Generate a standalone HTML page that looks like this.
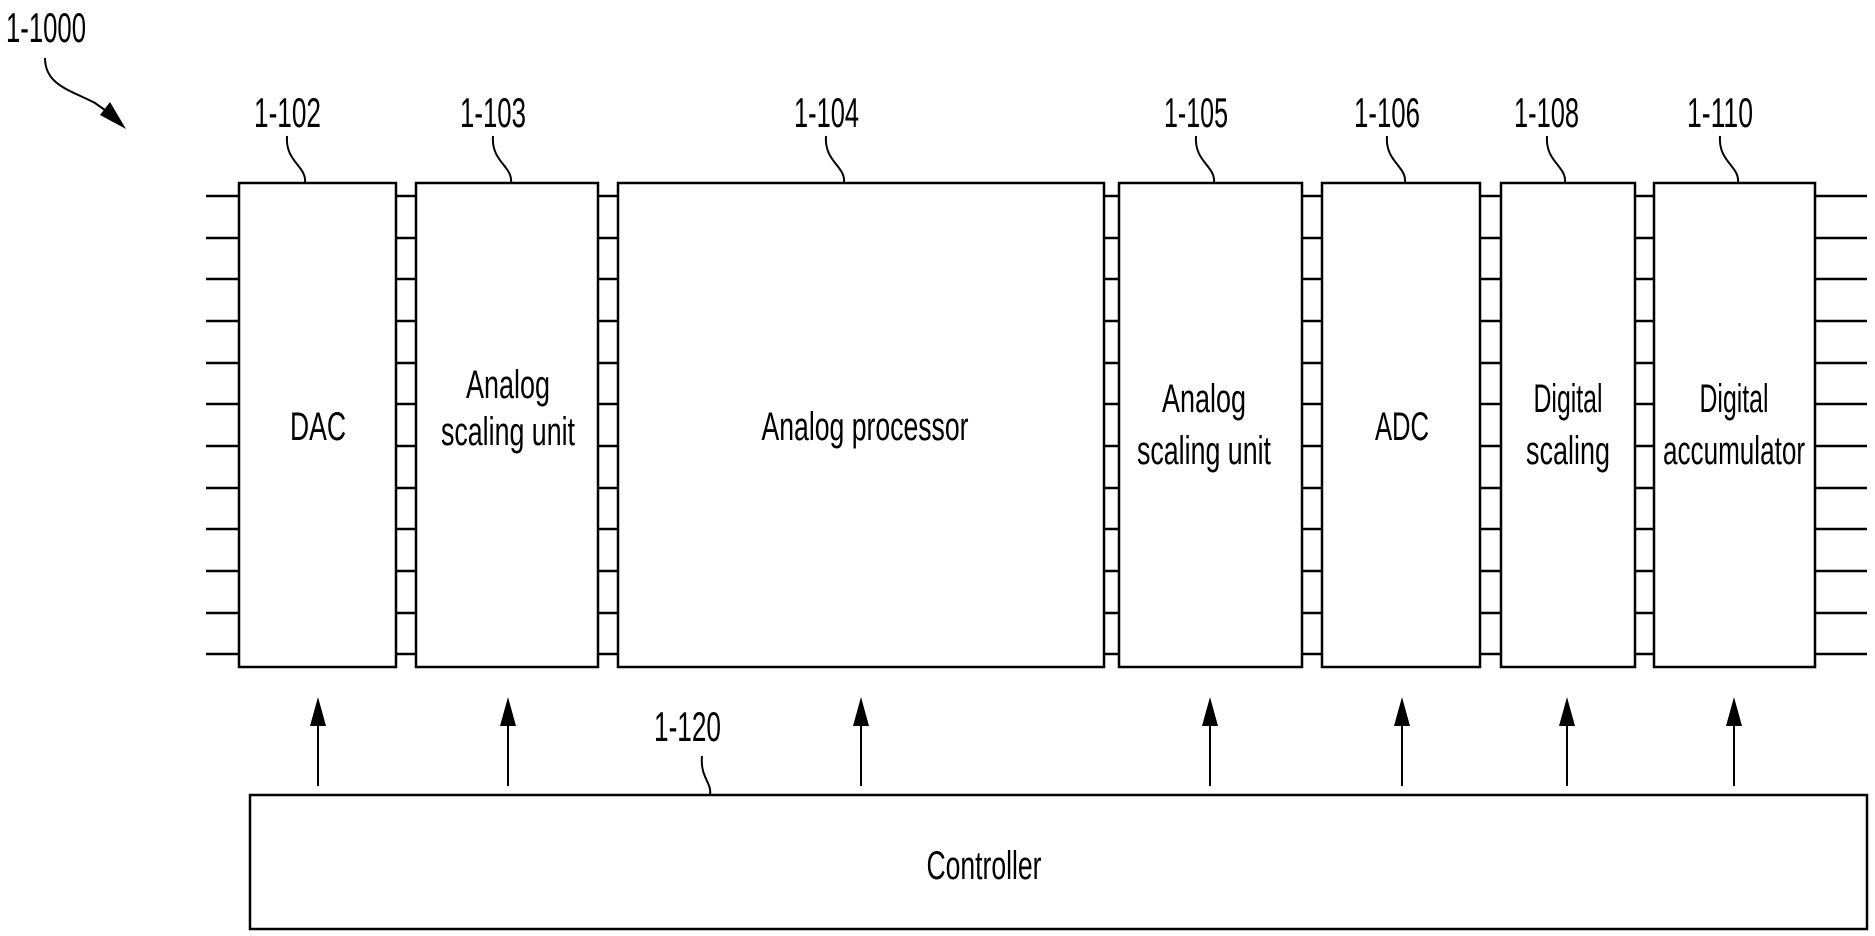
<!DOCTYPE html>
<html><head><meta charset="utf-8"><style>html,body{margin:0;padding:0;background:#fff}svg{display:block}</style></head>
<body>
<svg width="1875" height="936" viewBox="0 0 1875 936" xmlns="http://www.w3.org/2000/svg" font-family="'Liberation Sans Narrow','Liberation Sans',sans-serif" fill="#000">
<g stroke="#000" stroke-width="2.5" fill="none">
<path d="M206,196h33M206,238h33M206,279h33M206,321h33M206,363h33M206,404h33M206,446h33M206,488h33M206,529h33M206,571h33M206,613h33M206,654h33"/>
<path d="M396,196h20M396,238h20M396,279h20M396,321h20M396,363h20M396,404h20M396,446h20M396,488h20M396,529h20M396,571h20M396,613h20M396,654h20"/>
<path d="M598,196h20M598,238h20M598,279h20M598,321h20M598,363h20M598,404h20M598,446h20M598,488h20M598,529h20M598,571h20M598,613h20M598,654h20"/>
<path d="M1104,196h15M1104,238h15M1104,279h15M1104,321h15M1104,363h15M1104,404h15M1104,446h15M1104,488h15M1104,529h15M1104,571h15M1104,613h15M1104,654h15"/>
<path d="M1302,196h20M1302,238h20M1302,279h20M1302,321h20M1302,363h20M1302,404h20M1302,446h20M1302,488h20M1302,529h20M1302,571h20M1302,613h20M1302,654h20"/>
<path d="M1480,196h21M1480,238h21M1480,279h21M1480,321h21M1480,363h21M1480,404h21M1480,446h21M1480,488h21M1480,529h21M1480,571h21M1480,613h21M1480,654h21"/>
<path d="M1635,196h19M1635,238h19M1635,279h19M1635,321h19M1635,363h19M1635,404h19M1635,446h19M1635,488h19M1635,529h19M1635,571h19M1635,613h19M1635,654h19"/>
<path d="M1815,196h52M1815,238h52M1815,279h52M1815,321h52M1815,363h52M1815,404h52M1815,446h52M1815,488h52M1815,529h52M1815,571h52M1815,613h52M1815,654h52"/>
<rect x="239" y="183" width="157" height="484"/>
<rect x="416" y="183" width="182" height="484"/>
<rect x="618" y="183" width="486" height="484"/>
<rect x="1119" y="183" width="183" height="484"/>
<rect x="1322" y="183" width="158" height="484"/>
<rect x="1501" y="183" width="134" height="484"/>
<rect x="1654" y="183" width="161" height="484"/>
<rect x="250" y="795" width="1617" height="134"/>
<g stroke-width="2">
<path d="M318,786V720"/><path d="M508,786V720"/><path d="M861,786V720"/><path d="M1210,786V720"/><path d="M1402,786V720"/><path d="M1567,786V720"/><path d="M1734,786V720"/>
<path d="M287,136 C285,162 307,166 305,183"/>
<path d="M493,136 C491,162 513,166 511,183"/>
<path d="M826,136 C824,162 846,166 844,183"/>
<path d="M1196,136 C1194,162 1216,166 1214,183"/>
<path d="M1387,136 C1385,162 1407,166 1405,183"/>
<path d="M1547,136 C1545,162 1567,166 1565,183"/>
<path d="M1720,136 C1718,162 1740,166 1738,183"/>
<path d="M702,756 C700,778 712,782 710,795"/>
<path d="M45,58 C45,85 70,90 95,103 L112,115"/>
</g>
</g>
<g fill="#000">
<path d="M318,697 L326,726 L310,726 Z"/>
<path d="M508,697 L516,726 L500,726 Z"/>
<path d="M861,697 L869,726 L853,726 Z"/>
<path d="M1210,697 L1218,726 L1202,726 Z"/>
<path d="M1402,697 L1410,726 L1394,726 Z"/>
<path d="M1567,697 L1575,726 L1559,726 Z"/>
<path d="M1734,697 L1742,726 L1726,726 Z"/>
<path d="M126,129 L100,115 L110,102 Z"/>
</g>
<g font-size="42">
<text x="6" y="42" textLength="80" lengthAdjust="spacingAndGlyphs">1-1000</text>
<text x="254" y="127" textLength="67" lengthAdjust="spacingAndGlyphs">1-102</text>
<text x="460" y="127" textLength="66" lengthAdjust="spacingAndGlyphs">1-103</text>
<text x="794" y="127" textLength="65" lengthAdjust="spacingAndGlyphs">1-104</text>
<text x="1164" y="127" textLength="64" lengthAdjust="spacingAndGlyphs">1-105</text>
<text x="1354" y="127" textLength="66" lengthAdjust="spacingAndGlyphs">1-106</text>
<text x="1514" y="127" textLength="65" lengthAdjust="spacingAndGlyphs">1-108</text>
<text x="1687" y="127" textLength="66" lengthAdjust="spacingAndGlyphs">1-110</text>
<text x="654" y="741" textLength="67" lengthAdjust="spacingAndGlyphs">1-120</text>
</g>
<g font-size="40" text-anchor="middle">
<text x="318" y="440" textLength="56" lengthAdjust="spacingAndGlyphs">DAC</text>
<text x="508" y="398" textLength="84" lengthAdjust="spacingAndGlyphs">Analog</text>
<text x="508" y="445" textLength="134" lengthAdjust="spacingAndGlyphs">scaling unit</text>
<text x="865" y="440" textLength="207" lengthAdjust="spacingAndGlyphs">Analog processor</text>
<text x="1204" y="412" textLength="84" lengthAdjust="spacingAndGlyphs">Analog</text>
<text x="1204" y="464" textLength="134" lengthAdjust="spacingAndGlyphs">scaling unit</text>
<text x="1402" y="440" textLength="54" lengthAdjust="spacingAndGlyphs">ADC</text>
<text x="1568" y="412" textLength="69" lengthAdjust="spacingAndGlyphs">Digital</text>
<text x="1568" y="464" textLength="84" lengthAdjust="spacingAndGlyphs">scaling</text>
<text x="1734" y="412" textLength="69" lengthAdjust="spacingAndGlyphs">Digital</text>
<text x="1734" y="464" textLength="142" lengthAdjust="spacingAndGlyphs">accumulator</text>
<text x="984" y="879" textLength="115" lengthAdjust="spacingAndGlyphs">Controller</text>
</g>
</svg>
</body></html>
